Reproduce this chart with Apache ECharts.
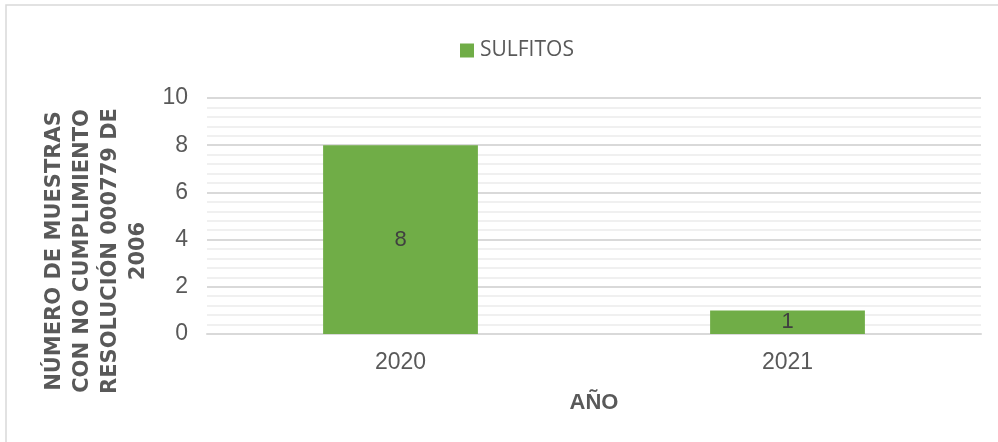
<!DOCTYPE html>
<html>
<head>
<meta charset="utf-8">
<script src="https://cdn.jsdelivr.net/npm/echarts@6/dist/echarts.min.js"></script>
<style>html,body{margin:0;padding:0;background:#fff;}#c{width:998px;height:442px;}</style>
</head>
<body>
<div id="c"></div>
<script>
const categories = ['2020', '2021'];
const sulfitos = [8, 1];
const seriesName = 'SULFITOS';
const yTitleLines = ['NÚMERO DE MUESTRAS', 'CON NO CUMPLIMIENTO', 'RESOLUCIÓN 000779 DE', '2006'];
const xTitle = 'AÑO';

const chart = echarts.init(document.getElementById('c'), null, {renderer: 'canvas'});
chart.setOption({
  animation: false,
  backgroundColor: '#ffffff',
  legend: {
    data: [seriesName],
    top: 35,
    left: 455,
    itemWidth: 14,
    itemHeight: 14,
    itemGap: 10,
    icon: 'rect',
    textStyle: {fontFamily: 'Open Sans', fontSize: 21, color: '#595959', padding: [0, 0, 0, 1]}
  },
  grid: {left: 207, right: 17, top: 98, bottom: 108, containLabel: false},
  xAxis: {
    type: 'category',
    data: categories,
    axisLine: {show: true, lineStyle: {color: '#d9d9d9', width: 2}},
    axisTick: {show: false},
    axisLabel: {fontFamily: 'Liberation Sans', fontSize: 23, color: '#595959', margin: 17},
    name: xTitle,
    nameLocation: 'middle',
    nameGap: 58,
    nameTextStyle: {fontFamily: 'Liberation Sans', fontWeight: 'bold', fontSize: 22, color: '#595959'}
  },
  yAxis: {
    type: 'value',
    min: 0,
    max: 10,
    interval: 2,
    axisLine: {show: false},
    axisTick: {show: false},
    axisLabel: {fontFamily: 'Liberation Sans', fontSize: 23, color: '#595959', margin: 19},
    splitLine: {show: true, lineStyle: {color: '#d9d9d9', width: 2}},
    minorTick: {show: false, splitNumber: 5},
    minorSplitLine: {show: true, lineStyle: {color: '#f0f0f0', width: 2}}
  },
  series: [{
    name: seriesName,
    type: 'bar',
    data: sulfitos,
    barWidth: '40%',
    itemStyle: {color: '#70ad47'},
    label: {
      show: true,
      position: 'inside',
      fontFamily: 'Liberation Sans',
      fontSize: 22,
      color: '#404040'
    }
  }],
  graphic: [
    {
      type: 'rect',
      shape: {x: 6, y: 5, width: 1010, height: 460},
      style: {fill: 'none', stroke: '#d9d9d9', lineWidth: 1.5},
      silent: true,
      z: -1
    },
    {
      type: 'text',
      x: 97,
      y: 251,
      rotation: Math.PI / 2,
      style: {
        text: yTitleLines.join('\n'),
        fontFamily: 'DejaVu Sans',
        fontWeight: 'bold',
        fontSize: 21,
        lineHeight: 28,
        fill: '#595959',
        align: 'center',
        verticalAlign: 'middle'
      }
    }
  ]
});
</script>
</body>
</html>
